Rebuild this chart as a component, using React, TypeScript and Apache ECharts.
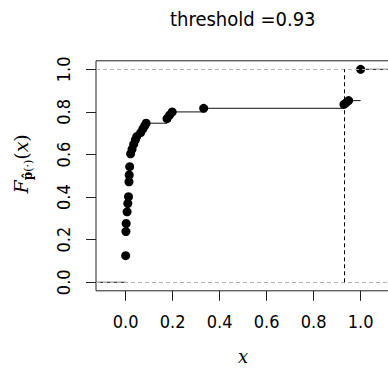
import React, { useEffect, useRef } from "react";
import * as echarts from "echarts";

const xVals = [0.0, 0.001, 0.002, 0.006, 0.009, 0.012, 0.014, 0.015, 0.017, 0.021, 0.027, 0.034, 0.041, 0.047, 0.064, 0.073, 0.081, 0.087, 0.176, 0.187, 0.198, 0.332, 0.929, 0.939, 0.949, 1.0];
const fVals = [0.125, 0.238, 0.276, 0.331, 0.37, 0.402, 0.472, 0.504, 0.543, 0.603, 0.625, 0.648, 0.668, 0.684, 0.703, 0.72, 0.735, 0.747, 0.768, 0.785, 0.8, 0.817, 0.835, 0.844, 0.853, 1.0];
const threshold = 0.93;
const xTicks = [0, 0.2, 0.4, 0.6, 0.8, 1.0];
const yTicks = [0, 0.2, 0.4, 0.6, 0.8, 1.0];
const xRange = [-0.1264, 1.1264];
const yRange = [-0.04, 1.04];
const titleText = "threshold =0.93";

export default function App() {
  const ref = useRef<HTMLDivElement>(null);
  useEffect(() => {
    if (!ref.current) return;
    const chart = echarts.init(ref.current, undefined, { renderer: "svg" });
    const segs: number[][] = [];
    segs.push([xRange[0], xVals[0], 0]);
    for (let i = 0; i < xVals.length - 1; i++) segs.push([xVals[i], xVals[i + 1], fVals[i]]);
    segs.push([xVals[xVals.length - 1], xRange[1], fVals[fVals.length - 1]]);
    const pts = xVals.map((x, i) => [x, fVals[i]]);
    const sans = "'DejaVu Sans Condensed', 'DejaVu Sans', sans-serif";
    const serif = "'DejaVu Serif', 'Liberation Serif', serif";
    chart.setOption({
      animation: false,
      backgroundColor: "#fff",
      title: {
        text: titleText,
        left: 165,
        top: 4,
        textStyle: { fontFamily: sans, fontSize: 20, fontWeight: "normal", color: "#000" },
      },
      grid: {
        left: 96,
        top: 60.8,
        width: 294.3,
        height: 230,
        outerBoundsMode: "none",
        containLabel: false,
        show: true,
        borderColor: "#222",
        borderWidth: 1,
        backgroundColor: "transparent",
      },
      xAxis: {
        type: "value",
        min: xRange[0],
        max: xRange[1],
        axisLine: { show: false, onZero: false },
        splitLine: { show: false },
        axisTick: { show: true, customValues: xTicks, length: 10, lineStyle: { color: "#222" } },
        axisLabel: {
          customValues: xTicks,
          formatter: (v: number) => v.toFixed(1),
          fontFamily: sans,
          fontSize: 18,
          color: "#000",
          margin: 22,
        },
        name: "x",
        nameLocation: "middle",
        nameGap: 57,
        nameTextStyle: { fontFamily: serif, fontStyle: "italic", fontSize: 18, lineHeight: 18, color: "#000" },
      },
      yAxis: {
        type: "value",
        min: yRange[0],
        max: yRange[1],
        axisLine: { show: false, onZero: false },
        splitLine: { show: false },
        axisTick: { show: true, customValues: yTicks, length: 10, lineStyle: { color: "#222" } },
        axisLabel: {
          customValues: yTicks,
          rotate: 90,
          formatter: (v: number) => v.toFixed(1),
          fontFamily: sans,
          fontSize: 18,
          color: "#000",
          margin: 24,
        },
        name: "{f|F}{s|p̂}{t|(·)}{p|(}{x|x}{p|)}",
        nameLocation: "middle",
        nameRotate: 90,
        nameGap: 62,
        nameTextStyle: {
          padding: [0, 0, 0, 24],
          rich: {
            f: { fontFamily: serif, fontStyle: "italic", fontSize: 19, color: "#000", lineHeight: 26, verticalAlign: "middle" },
            s: { fontFamily: serif, fontWeight: "bold", fontSize: 12, color: "#000", lineHeight: 26, verticalAlign: "bottom" },
            t: { fontFamily: serif, fontSize: 11, color: "#000", lineHeight: 26, verticalAlign: "bottom" },
            p: { fontFamily: serif, fontSize: 19, color: "#000", lineHeight: 26, verticalAlign: "middle" },
            x: { fontFamily: serif, fontStyle: "italic", fontSize: 19, color: "#000", lineHeight: 26, verticalAlign: "middle" },
          },
        },
      },
      series: [
        {
          type: "line",
          data: [],
          z: 1,
          markLine: {
            silent: true,
            symbol: ["none", "none"],
            label: { show: false },
            lineStyle: { type: [4, 3], color: "#b3b3b3", width: 1 },
            data: [{ yAxis: 0 }, { yAxis: 1 }],
          },
        },
        {
          type: "custom",
          z: 2,
          clip: true,
          encode: { x: [0, 1], y: 2 },
          data: segs,
          renderItem: (params: any, api: any) => {
            const y = api.value(2);
            const p0 = api.coord([api.value(0), y]);
            const p1 = api.coord([api.value(1), y]);
            return {
              type: "line",
              shape: { x1: p0[0], y1: p0[1], x2: p1[0], y2: p1[1] },
              style: { stroke: "#111", lineWidth: 1 },
            };
          },
        },
        {
          type: "scatter",
          z: 3,
          symbol: "circle",
          symbolSize: 9,
          itemStyle: { color: "#000", opacity: 1 },
          data: pts,
          markLine: {
            silent: true,
            symbol: ["none", "none"],
            label: { show: false },
            lineStyle: { type: [4, 3], color: "#000", width: 1 },
            data: [[{ coord: [threshold, 0] }, { coord: [threshold, 1] }]],
          },
        },
      ],
    });
    return () => chart.dispose();
  }, []);
  return <div ref={ref} style={{ position: "absolute", left: 0, top: 0, width: 388, height: 368 }} />;
}
